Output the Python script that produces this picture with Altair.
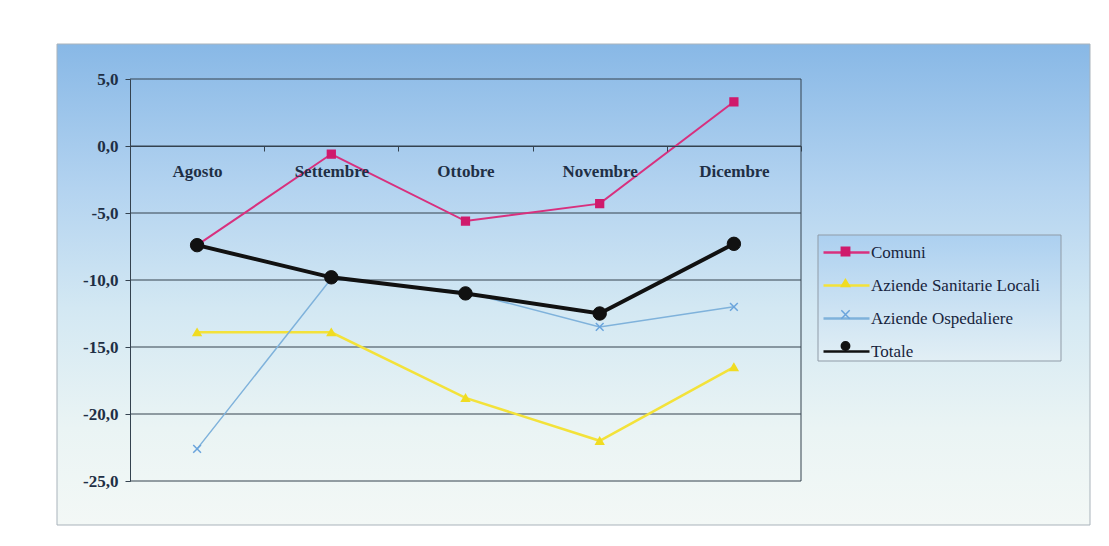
import altair as alt
import pandas as pd

mesi = ["Agosto", "Settembre", "Ottobre", "Novembre", "Dicembre"]
serie = ["Comuni", "Aziende Sanitarie Locali", "Aziende Ospedaliere", "Totale"]
comuni = [-7.4, -0.6, -5.6, -4.3, 3.3]
asl = [-13.9, -13.9, -18.8, -22.0, -16.5]
ao = [-22.6, -9.9, -10.9, -13.5, -12.0]
totale = [-7.4, -9.8, -11.0, -12.5, -7.3]
y_ticks = [5, 0, -5, -10, -15, -20, -25]

colori_linee = ["#d8307e", "#f3e23a", "#7fb2db", "#111111"]
colori_marker = ["#cf1a6c", "#f0dc22", "#6aa4dc", "#111111"]
forme = ["square", "triangle-up", "M-1,-1L1,1M-1,1L1,-1", "circle"]
spessori = [2, 2.5, 1.5, 4]

valori = {"Comuni": comuni, "Aziende Sanitarie Locali": asl,
          "Aziende Ospedaliere": ao, "Totale": totale}
rows = []
for s in serie:
    for m, v in zip(mesi, valori[s]):
        rows.append({"serie": s, "mese": m, "valore": v})
df = pd.DataFrame(rows)

FONT = "Liberation Serif"
GRID = "#34424f"

yscale = alt.Scale(domain=[-25, 5], nice=False, zero=False)
xscale = alt.Scale(type="band", paddingInner=0, paddingOuter=0)

x_enc = alt.X("mese:N", sort=mesi, scale=xscale,
              axis=alt.Axis(orient="bottom", offset=-335, tickBand="extent",
                            domainColor=GRID, tickColor=GRID, tickSize=5,
                            labelFont=FONT, labelFontSize=17, labelFontWeight="bold",
                            labelColor="#1f2f45", labelPadding=12, labelAngle=0,
                            title=None, zindex=1, grid=False))
y_axis = alt.Axis(values=y_ticks,
                  labelExpr="replace((datum.value < 0 ? '-' : '') + format(abs(datum.value), '.1f'), '.', ',')",
                  grid=False, domainColor=GRID, tickColor=GRID, tickSize=5,
                  labelFont=FONT, labelFontSize=17, labelFontWeight="bold",
                  labelColor="#1f2f45", labelPadding=7, title=None, zindex=1)
y_enc = alt.Y("valore:Q", scale=yscale, axis=y_axis)

gradiente = alt.LinearGradient(
    gradient="linear",
    stops=[alt.GradientStop(color="#88b8e6", offset=0),
           alt.GradientStop(color="#b3d3f0", offset=0.3),
           alt.GradientStop(color="#d3e8f3", offset=0.55),
           alt.GradientStop(color="#eaf4f4", offset=0.8),
           alt.GradientStop(color="#f3f8f6", offset=1)],
    x1=0, x2=0, y1=0, y2=1)

gradiente_leg = alt.LinearGradient(
    gradient="linear",
    stops=[alt.GradientStop(color="#acd0f0", offset=0),
           alt.GradientStop(color="#cde3f3", offset=0.6),
           alt.GradientStop(color="#e2eff5", offset=1)],
    x1=0, x2=0, y1=0, y2=1)

sfondo = alt.Chart(pd.DataFrame({"k": [0]})).mark_rect(
    fill=gradiente, stroke="#a9b3bb", strokeWidth=1
).encode(x=alt.value(-73), x2=alt.value(960), y=alt.value(-35), y2=alt.value(446))

box_legenda = alt.Chart(pd.DataFrame({"k": [0]})).mark_rect(
    fill=gradiente_leg, stroke="#8f9ba7", strokeWidth=1
).encode(x=alt.value(688), x2=alt.value(931), y=alt.value(156), y2=alt.value(282))

griglia = alt.Chart(pd.DataFrame({"valore": y_ticks})).mark_rule(
    color=GRID, strokeWidth=1
).encode(y=y_enc)

bordo = alt.Chart(pd.DataFrame({"k": [0]})).mark_rule(color=GRID, strokeWidth=1).encode(
    x=alt.value("width"), y=alt.value(0), y2=alt.value("height"))

L1 = alt.Legend(title=None, orient="none", legendX=696, legendY=149,
                symbolType="stroke", symbolSize=2116, symbolOffset=-4,
                symbolStrokeWidth=2.5,
                labelOffset=0, padding=0,
                labelFont=FONT, labelFontSize=17, labelColor="#17243d",
                labelLimit=300, rowPadding=-17, zindex=1)
L2 = alt.Legend(title=None, orient="none", legendX=688, legendY=156,
                symbolSize=70, symbolOffset=11, symbolStrokeWidth=1.5,
                labelOpacity=0, padding=8, labelFont=FONT, labelFontSize=17,
                labelLimit=300, rowPadding=13.5, zindex=2)

linee = alt.Chart(df).mark_line().encode(
    x=x_enc, y=y_enc,
    color=alt.Color("serie:N", sort=serie, scale=alt.Scale(range=colori_linee), legend=L1),
    strokeWidth=alt.StrokeWidth("serie:N", sort=serie,
                                scale=alt.Scale(type="ordinal", range=spessori), legend=None),
)

punti_base = alt.Chart(df).encode(
    x=x_enc, y=y_enc,
    fill=alt.Fill("serie:N", scale=alt.Scale(domain=serie, range=colori_marker), legend=L2),
    stroke=alt.Stroke("serie:N", scale=alt.Scale(domain=serie, range=colori_marker), legend=L2),
    shape=alt.Shape("serie:N", scale=alt.Scale(domain=serie, range=forme), legend=L2),
)
punti = punti_base.transform_filter(alt.datum.serie != "Totale").mark_point(
    filled=True, opacity=1, size=60, strokeWidth=1.5)
punti_tot = punti_base.transform_filter(alt.datum.serie == "Totale").mark_point(
    filled=True, opacity=1, size=180, strokeWidth=1)

chart = alt.layer(sfondo, box_legenda, griglia, bordo, linee, punti, punti_tot).properties(
    width=671, height=402,
    autosize=alt.AutoSizeParams(type="none"),
    padding={"left": 122, "top": 71, "right": 290, "bottom": 50},
    background="white",
).configure_view(stroke=None)

chart.save("out.html", embed_options={"renderer": "svg", "actions": False})
